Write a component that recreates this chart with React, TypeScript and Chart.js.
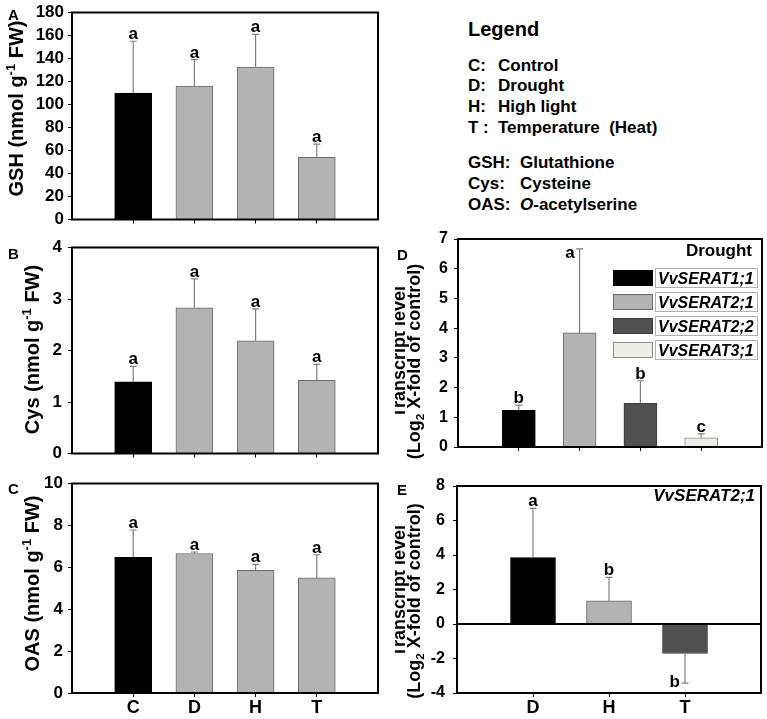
import React, { useEffect, useRef } from "react";
import { Chart, registerables } from "chart.js";

Chart.register(...registerables);

const FAMILY = "'Liberation Sans', Arial, Helvetica, sans-serif";

// ---------------- data ----------------
const treatments = ["C", "D", "H", "T"];

const gshMean = [110, 116, 132.5, 54];
const gshErr = [45, 23, 28.5, 11.5];
const gshLetters = ["a", "a", "a", "a"];
const gshAxis = [0, 180, 20]; // min, max, step

const cysMean = [1.39, 2.83, 2.19, 1.42];
const cysErr = [0.3, 0.56, 0.62, 0.31];
const cysLetters = ["a", "a", "a", "a"];
const cysAxis = [0, 4, 1];

const oasMean = [6.48, 6.66, 5.86, 5.5];
const oasErr = [1.3, 0.07, 0.28, 1.1];
const oasLetters = ["a", "a", "a", "a"];
const oasAxis = [0, 10, 2];

const genes = ["VvSERAT1;1", "VvSERAT2;1", "VvSERAT2;2", "VvSERAT3;1"];
const droughtMean = [1.23, 3.84, 1.47, 0.31];
const droughtErr = [0.18, 2.83, 0.76, 0.13];
const droughtLetters = ["b", "a", "b", "c"];
const droughtAxis = [0, 7, 1];

const stresses = ["D", "H", "T"];
const serat21Mean = [3.85, 1.35, -1.71];
const serat21Err = [2.85, 1.35, 1.72];
const serat21Letters = ["a", "b", "b"];
const serat21Axis = [-4, 8, 2];

const legendAbbrev = [
  ["C:", "Control"],
  ["D:", "Drought"],
  ["H:", "High light"],
  ["T :", "Temperature  (Heat)"],
];
const legendMetab = [
  ["GSH:", "Glutathione"],
  ["Cys:", "Cysteine"],
  ["OAS:", "-acetylserine"],
];

// ---------------- styles ----------------
const BLACK = "#000000";
const GREY = "#b3b3b3";
const DARK = "#505050";
const CREAM = "#eeede5";
const treatColors = [BLACK, GREY, GREY, GREY];
const treatBorders = [BLACK, "#6a6a6a", "#6a6a6a", "#6a6a6a"];
const geneColors = [BLACK, GREY, DARK, CREAM];
const geneBorders = [BLACK, "#6a6a6a", "#3a3a3a", "#8a8a8a"];
const stressColors = [BLACK, GREY, DARK];
const stressBorders = [BLACK, "#6a6a6a", "#3a3a3a"];

type Seg = { t: string; sup?: boolean; sub?: boolean; italic?: boolean };

function drawRichVertical(ctx: CanvasRenderingContext2D, segs: Seg[], cx: number, cy: number, size: number) {
  ctx.save();
  ctx.translate(cx, cy);
  ctx.rotate(-Math.PI / 2);
  const parts = segs.map((s) => {
    const fs = s.sup || s.sub ? size * 0.65 : size;
    const font = `${s.italic ? "italic " : ""}bold ${fs}px ${FAMILY}`;
    ctx.font = font;
    return { ...s, font, w: ctx.measureText(s.t).width };
  });
  const total = parts.reduce((a, p) => a + p.w, 0);
  let x = -total / 2;
  const base = size * 0.358;
  ctx.fillStyle = "#000";
  ctx.textAlign = "left";
  ctx.textBaseline = "alphabetic";
  for (const p of parts) {
    ctx.font = p.font;
    const dy = p.sup ? -size * 0.4 : p.sub ? size * 0.22 : 0;
    ctx.fillText(p.t, x, base + dy);
    x += p.w;
  }
  ctx.restore();
}

const decoPlugin = {
  id: "deco",
  afterDatasetsDraw(chart: any, _a: any, o: any) {
    const { ctx, chartArea: ca } = chart;
    const xs = chart.scales.x;
    const ys = chart.scales.y;
    ctx.save();
    if (o.zeroLine) {
      const y = ys.getPixelForValue(0);
      ctx.strokeStyle = "#000";
      ctx.lineWidth = 2;
      ctx.beginPath();
      ctx.moveTo(ca.left, y);
      ctx.lineTo(ca.right, y);
      ctx.stroke();
    }
    o.values.forEach((v: number, i: number) => {
      const x = xs.getPixelForValue(i + 1);
      const up = v >= 0;
      const yb = ys.getPixelForValue(v);
      const ye = ys.getPixelForValue(up ? v + o.errors[i] : v - o.errors[i]);
      ctx.strokeStyle = "#808080";
      ctx.lineWidth = 1.2;
      ctx.beginPath();
      ctx.moveTo(x, yb);
      ctx.lineTo(x, ye);
      ctx.moveTo(x - 3.5, ye);
      ctx.lineTo(x + 3.5, ye);
      ctx.stroke();
      ctx.fillStyle = "#000";
      ctx.font = `bold 17px ${FAMILY}`;
      ctx.textBaseline = "alphabetic";
      const L = o.letters[i];
      if (up) {
        if (ye - 15 >= ca.top) {
          ctx.textAlign = "center";
          ctx.fillText(L, x, ye - 2);
        } else {
          ctx.textAlign = "right";
          ctx.fillText(L, x - 5, ye + 9);
        }
      } else {
        if (ye + 15 <= ca.bottom) {
          ctx.textAlign = "center";
          ctx.fillText(L, x, ye + 14);
        } else {
          ctx.textAlign = "right";
          ctx.fillText(L, x - 5, ye + 4);
        }
      }
    });
    ctx.restore();
  },
  afterDraw(chart: any, _a: any, o: any) {
    const { ctx, chartArea: ca } = chart;
    ctx.save();
    ctx.strokeStyle = "#000";
    ctx.lineWidth = 2;
    ctx.strokeRect(ca.left, ca.top, ca.right - ca.left, ca.bottom - ca.top);
    for (const t of o.titles) drawRichVertical(ctx, t.segs, t.cx, t.cy, t.size);
    if (o.corner) {
      ctx.font = `${o.corner.italic ? "italic " : ""}bold ${o.corner.size}px ${FAMILY}`;
      ctx.fillStyle = "#000";
      ctx.textAlign = "right";
      ctx.textBaseline = "alphabetic";
      ctx.fillText(o.corner.text, o.corner.x, o.corner.cy + o.corner.size * 0.358);
    }
    if (o.legend) {
      const lg = o.legend;
      lg.items.forEach((name: string, i: number) => {
        const cy = lg.y + i * lg.step;
        ctx.fillStyle = lg.colors[i];
        ctx.fillRect(lg.x, cy - lg.sh / 2, lg.sw, lg.sh);
        ctx.strokeStyle = lg.borders[i];
        ctx.lineWidth = 1;
        ctx.strokeRect(lg.x + 0.5, cy - lg.sh / 2 + 0.5, lg.sw - 1, lg.sh - 1);
        ctx.strokeStyle = "#b0b0b0";
        ctx.strokeRect(lg.x + lg.sw + 2.5, cy - lg.sh / 2 - 1.5, lg.lw, lg.sh + 3);
        ctx.fillStyle = "#000";
        ctx.font = `italic bold ${lg.size}px ${FAMILY}`;
        ctx.textAlign = "left";
        ctx.textBaseline = "alphabetic";
        ctx.fillText(name, lg.x + lg.sw + 5, cy + lg.size * 0.358);
      });
    }
    ctx.restore();
  },
};

type Spec = {
  x: number; y: number; w: number; h: number;
  area: { left: number; top: number; right: number; bottom: number };
  cats: string[]; values: number[]; errors: number[]; letters: string[];
  colors: string[]; borders: string[]; axis: number[];
  barW: number; showX: boolean; yPad: number; xPad: number; tickSize: number;
  titles: { segs: Seg[]; cx: number; cy: number; size: number }[];
  zeroLine?: boolean; corner?: any; legend?: any;
};

function buildConfig(s: Spec): any {
  const tickFont = { family: FAMILY, size: s.tickSize, weight: "bold", lineHeight: 1 };
  return {
    type: "bar",
    data: {
      datasets: [
        {
          data: s.values.map((v, i) => ({ x: i + 1, y: v })),
          backgroundColor: s.colors,
          borderColor: s.borders,
          borderWidth: 1,
          barThickness: s.barW,
        },
      ],
    },
    options: {
      responsive: false,
      animation: false,
      devicePixelRatio: 1,
      layout: { padding: { left: 0, top: s.area.top, right: s.w - s.area.right, bottom: 0 } },
      plugins: {
        legend: { display: false },
        tooltip: { enabled: false },
        deco: {
          values: s.values, errors: s.errors, letters: s.letters, titles: s.titles,
          zeroLine: s.zeroLine, corner: s.corner, legend: s.legend,
        },
      },
      scales: {
        x: {
          type: "linear",
          min: 0,
          max: s.cats.length + 1,
          offset: false,
          grid: { display: true, offset: false, drawOnChartArea: false, drawTicks: true, tickLength: 4, color: "#000", lineWidth: 1 },
          border: { display: false },
          afterBuildTicks: (ax: any) => {
            ax.ticks = s.cats.map((_, i) => ({ value: i + 1 }));
          },
          afterFit: (ax: any) => {
            ax.height = s.h - s.area.bottom;
          },
          ticks: {
            display: s.showX,
            autoSkip: false,
            maxRotation: 0,
            padding: s.xPad,
            color: "#000",
            font: { family: FAMILY, size: 18, weight: "bold", lineHeight: 1 },
            callback: (v: number) => s.cats[Math.round(v) - 1] ?? "",
          },
        },
        y: {
          type: "linear",
          min: s.axis[0],
          max: s.axis[1],
          grid: { display: true, drawOnChartArea: false, drawTicks: true, tickLength: 4, color: "#000", lineWidth: 1 },
          border: { display: false },
          afterFit: (ax: any) => {
            ax.width = s.area.left;
          },
          ticks: { stepSize: s.axis[2], padding: s.yPad, color: "#000", font: tickFont },
        },
      },
    },
    plugins: [decoPlugin],
  };
}

function BarPanel({ spec }: { spec: Spec }) {
  const ref = useRef<HTMLCanvasElement>(null);
  useEffect(() => {
    const chart = new Chart(ref.current as HTMLCanvasElement, buildConfig(spec));
    return () => chart.destroy();
  }, []);
  return (
    <canvas
      ref={ref}
      width={spec.w}
      height={spec.h}
      style={{ position: "absolute", left: spec.x, top: spec.y, width: spec.w, height: spec.h }}
    />
  );
}

const unitTitle = (name: string): Seg[] => [{ t: `${name} (nmol g` }, { t: "-1", sup: true }, { t: " FW)" }];
const transcriptLine1: Seg[] = [{ t: "Transcript level" }];
const transcriptLine2: Seg[] = [{ t: "(Log" }, { t: "2", sub: true }, { t: " X-fold of control)" }];

const specs: Spec[] = [
  {
    x: 0, y: 0, w: 400, h: 232, area: { left: 72, top: 9, right: 378, bottom: 222 },
    cats: treatments, values: gshMean, errors: gshErr, letters: gshLetters,
    colors: treatColors, borders: treatBorders, axis: gshAxis, barW: 37, showX: false, yPad: 4, xPad: 0, tickSize: 17,
    titles: [{ segs: unitTitle("GSH"), cx: 15.5, cy: 108.5, size: 20 }],
  },
  {
    x: 0, y: 233, w: 400, h: 235, area: { left: 72, top: 10, right: 378, bottom: 223 },
    cats: treatments, values: cysMean, errors: cysErr, letters: cysLetters,
    colors: treatColors, borders: treatBorders, axis: cysAxis, barW: 37, showX: false, yPad: 6, xPad: 0, tickSize: 17,
    titles: [{ segs: unitTitle("Cys"), cx: 32, cy: 116.5, size: 20 }],
  },
  {
    x: 0, y: 470, w: 400, h: 249, area: { left: 72, top: 10, right: 378, bottom: 223 },
    cats: treatments, values: oasMean, errors: oasErr, letters: oasLetters,
    colors: treatColors, borders: treatBorders, axis: oasAxis, barW: 37, showX: true, yPad: 5, xPad: 2, tickSize: 17,
    titles: [{ segs: unitTitle("OAS"), cx: 32, cy: 113.5, size: 20 }],
  },
  {
    x: 395, y: 225, w: 372, h: 240, area: { left: 63, top: 10, right: 367, bottom: 222 },
    cats: genes, values: droughtMean, errors: droughtErr, letters: droughtLetters,
    colors: geneColors, borders: geneBorders, axis: droughtAxis, barW: 33, showX: false, yPad: 6, xPad: 0, tickSize: 16,
    titles: [
      { segs: transcriptLine1, cx: 4, cy: 127, size: 18 },
      { segs: transcriptLine2, cx: 19, cy: 136.5, size: 18 },
    ],
    corner: { text: "Drought", x: 357, cy: 25, size: 17, italic: false },
    legend: { items: genes, colors: geneColors, borders: geneBorders, x: 218, y: 53, step: 24, sw: 40, sh: 16, lw: 102, size: 16 },
  },
  {
    x: 395, y: 470, w: 372, h: 249, area: { left: 62, top: 13, right: 366, bottom: 223 },
    cats: stresses, values: serat21Mean, errors: serat21Err, letters: serat21Letters,
    colors: stressColors, borders: stressBorders, axis: serat21Axis, barW: 45, showX: true, yPad: 8, xPad: 2, tickSize: 16,
    titles: [
      { segs: transcriptLine1, cx: 4, cy: 121, size: 18 },
      { segs: transcriptLine2, cx: 19, cy: 131, size: 18 },
    ],
    zeroLine: true,
    corner: { text: "VvSERAT2;1", x: 360, cy: 25, size: 17, italic: true },
  },
];

const panelLetters = [
  { t: "A", x: 8, cy: 14 },
  { t: "B", x: 8, cy: 253 },
  { t: "C", x: 8, cy: 488 },
  { t: "D", x: 397, cy: 254 },
  { t: "E", x: 397, cy: 489 },
];

const abbrevCy = [65.8, 85.3, 106.8, 127.5];
const metabCy = [162.5, 183.8, 204.8];

export default function App() {
  const txt = (size: number, top: number, left: number): React.CSSProperties => ({
    position: "absolute",
    left,
    top,
    fontSize: size,
    lineHeight: `${size}px`,
    fontWeight: "bold",
    whiteSpace: "pre",
    color: "#000",
  });
  return (
    <div style={{ position: "absolute", left: 0, top: 0, width: 767, height: 719, background: "#fff", fontFamily: FAMILY, overflow: "hidden" }}>
      {specs.map((s, i) => (
        <BarPanel key={i} spec={s} />
      ))}
      {panelLetters.map((p) => (
        <div key={p.t} style={txt(15, p.cy - 7.5, p.x)}>{p.t}</div>
      ))}
      <div style={txt(20, 19, 468)}>Legend</div>
      {legendAbbrev.map((r, i) => (
        <React.Fragment key={r[0]}>
          <div style={txt(17, abbrevCy[i] - 8.5, 468)}>{r[0]}</div>
          <div style={txt(17, abbrevCy[i] - 8.5, 498)}>{r[1]}</div>
        </React.Fragment>
      ))}
      {legendMetab.map((r, i) => (
        <React.Fragment key={r[0]}>
          <div style={txt(17, metabCy[i] - 8.5, 468)}>{r[0]}</div>
          <div style={txt(17, metabCy[i] - 8.5, 520)}>
            {i === 2 ? (
              <>
                <i>O</i>
                {r[1]}
              </>
            ) : (
              r[1]
            )}
          </div>
        </React.Fragment>
      ))}
    </div>
  );
}
